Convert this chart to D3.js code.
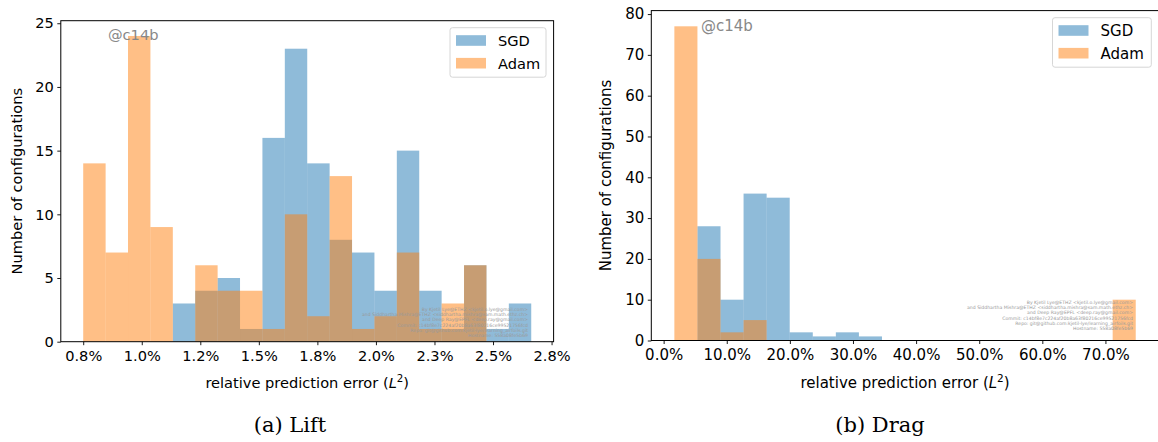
<!DOCTYPE html>
<html>
<head>
<meta charset="utf-8">
<script src="https://cdn.jsdelivr.net/npm/d3@7"></script>
<style>
  body { margin: 0; background: #fff; }
  svg text { font-family: "DejaVu Sans", sans-serif; }
</style>
</head>
<body>
<script>
// histogram counts (20 bins each, shared edges per panel)
var liftBinStart = 0.75;      // percent
var liftBinWidth = 0.09566;
var liftSGD  = [0, 0, 0, 0, 3, 4, 5, 1, 16, 23, 14, 8, 7, 4, 15, 4, 1, 6, 1, 3];
var liftAdam = [14, 7, 24, 9, 0, 6, 4, 4, 1, 10, 2, 13, 1, 2, 7, 1, 3, 6, 0, 0];
var liftXTicks = [0.75, 1.0, 1.25, 1.5, 1.75, 2.0, 2.25, 2.5, 2.75];
var liftXLabels = ['0.8%', '1.0%', '1.2%', '1.5%', '1.8%', '2.0%', '2.3%', '2.5%', '2.8%'];
var liftYTicks = [0, 5, 10, 15, 20, 25];

var dragBinStart = 1.70;
var dragBinWidth = 3.655;
var dragSGD  = [0, 28, 10, 36, 35, 2, 1, 2, 1, 0, 0, 0, 0, 0, 0, 0, 0, 0, 0, 0];
var dragAdam = [77, 20, 2, 5, 0, 0, 0, 0, 0, 0, 0, 0, 0, 0, 0, 0, 0, 0, 0, 10];
var dragXTicks = [0, 10, 20, 30, 40, 50, 60, 70];
var dragXLabels = ['0.0%', '10.0%', '20.0%', '30.0%', '40.0%', '50.0%', '60.0%', '70.0%'];
var dragYTicks = [0, 10, 20, 30, 40, 50, 60, 70, 80];

var seriesNames = ['SGD', 'Adam'];
var colors = ['#1f77b4', '#ff7f0e'];

var stamp = [
  'By Kjetil Lye@ETHZ <kjetil.o.lye@gmail.com>',
  'and Siddhartha Mishra@ETHZ <siddhartha.mishra@sam.math.ethz.ch>',
  'and Deep Ray@EPFL <deep.ray@gmail.com>',
  'Commit: c14bf8e7c224af20b8a63f80216ce99521756fcd',
  'Repo: git@github.com:kjetil-lye/learning_airfoils.git',
  'Hostname: 558a08fe5b69'
];

var svg = d3.select('body').append('svg')
    .attr('width', 1158)
    .attr('height', 442);

function panel(p) {
    var g = svg.append('g');
    var x = d3.scaleLinear().domain(p.xDomain).range([p.left, p.right]);
    var y = d3.scaleLinear().domain([0, p.yMax]).range([p.bottom, p.top]);

    // bars: SGD first, Adam drawn over it, both half transparent
    [p.sgd, p.adam].forEach(function(counts, k) {
        g.append('g').selectAll('rect')
            .data(counts)
            .enter().append('rect')
            .attr('x', function(d, i) { return x(p.binStart + i * p.binWidth); })
            .attr('width', function(d, i) { return x(p.binStart + (i + 1) * p.binWidth) - x(p.binStart + i * p.binWidth); })
            .attr('y', function(d) { return y(d); })
            .attr('height', function(d) { return y(0) - y(d); })
            .attr('fill', colors[k])
            .attr('fill-opacity', 0.5);
    });

    // author stamp
    g.append('g').selectAll('text')
        .data(stamp)
        .enter().append('text')
        .attr('x', p.stampX)
        .attr('y', function(d, i) { return p.stampY + i * 5.2; })
        .attr('text-anchor', 'end')
        .attr('font-size', 4.6)
        .attr('fill', '#999')
        .text(function(d) { return d; });

    g.append('text')
        .attr('x', p.tagX)
        .attr('y', p.tagY)
        .attr('font-size', p.fs)
        .attr('fill', '#888')
        .text('@c14b');

    // axes
    var xAxis = g.append('g')
        .attr('transform', 'translate(0,' + p.bottom + ')')
        .call(d3.axisBottom(x).tickValues(p.xTicks).tickSize(3.5).tickPadding(5.5)
            .tickFormat(function(d, i) { return p.xLabels[i]; }));
    var yAxis = g.append('g')
        .attr('transform', 'translate(' + p.left + ',0)')
        .call(d3.axisLeft(y).tickValues(p.yTicks).tickSize(3.5).tickPadding(3.5));
    [xAxis, yAxis].forEach(function(a) {
        a.select('.domain').remove();
        a.selectAll('line').attr('stroke', '#000').attr('stroke-width', 0.9);
        a.selectAll('text').attr('font-size', p.fs).attr('fill', '#000')
            .style('font-family', '"DejaVu Sans", sans-serif');
    });

    g.append('rect')
        .attr('x', p.left).attr('y', p.top)
        .attr('width', p.right - p.left).attr('height', p.bottom - p.top)
        .attr('fill', 'none').attr('stroke', '#000').attr('stroke-width', 1);

    // axis titles
    var xl = g.append('text')
        .attr('x', (p.left + p.right) / 2)
        .attr('y', 388)
        .attr('text-anchor', 'middle')
        .attr('font-size', p.fs);
    xl.append('tspan').text('relative prediction error (');
    xl.append('tspan').attr('font-style', 'italic').text('L');
    xl.append('tspan').attr('dy', -6).attr('font-size', p.fs * 0.7).text('2');
    xl.append('tspan').attr('dy', 6).text(')');

    g.append('text')
        .attr('transform', 'translate(' + p.yLabelX + ',' + ((p.top + p.bottom) / 2) + ') rotate(-90)')
        .attr('text-anchor', 'middle')
        .attr('dy', '0.35em')
        .attr('font-size', p.fs)
        .text('Number of configurations');

    // legend
    var lg = g.append('g');
    lg.append('rect')
        .attr('x', p.legX).attr('y', p.legY)
        .attr('width', p.legW).attr('height', 49.5)
        .attr('rx', 2.5)
        .attr('fill', '#fff').attr('fill-opacity', 0.8)
        .attr('stroke', '#d6d6d6').attr('stroke-width', 1);
    seriesNames.forEach(function(name, k) {
        lg.append('rect')
            .attr('x', p.legX + 6).attr('y', p.legY + 7.5 + k * 22.7)
            .attr('width', 30).attr('height', 10.6)
            .attr('fill', colors[k]).attr('fill-opacity', 0.5);
        lg.append('text')
            .attr('x', p.legX + 48).attr('y', p.legY + 18.6 + k * 22.7)
            .attr('font-size', p.fs)
            .text(name);
    });

    // caption
    svg.append('text')
        .attr('x', p.capX)
        .attr('y', 432)
        .attr('text-anchor', 'middle')
        .attr('font-size', 21)
        .style('font-family', '"DejaVu Serif", serif')
        .text(p.caption);
}

panel({
    left: 60.8, right: 553.6, top: 20.7, bottom: 341.7,
    xDomain: [0.6543, 2.7587], yMax: 25.2,
    binStart: liftBinStart, binWidth: liftBinWidth,
    sgd: liftSGD, adam: liftAdam,
    xTicks: liftXTicks, xLabels: liftXLabels, yTicks: liftYTicks,
    fs: 14.6, yLabelX: 16.6,
    legX: 450, legY: 27.7, legW: 96,
    tagX: 108, tagY: 40,
    stampX: 528, stampY: 311,
    capX: 290, caption: '(a) Lift'
});

panel({
    left: 651.3, right: 1158.8, top: 10.6, bottom: 340.5,
    xDomain: [-1.955, 78.455], yMax: 80.85,
    binStart: dragBinStart, binWidth: dragBinWidth,
    sgd: dragSGD, adam: dragAdam,
    xTicks: dragXTicks, xLabels: dragXLabels, yTicks: dragYTicks,
    fs: 15, yLabelX: 605.8,
    legX: 1052.5, legY: 17.7, legW: 98.8,
    tagX: 701, tagY: 31,
    stampX: 1133, stampY: 304,
    capX: 880, caption: '(b) Drag'
});
</script>
</body>
</html>
